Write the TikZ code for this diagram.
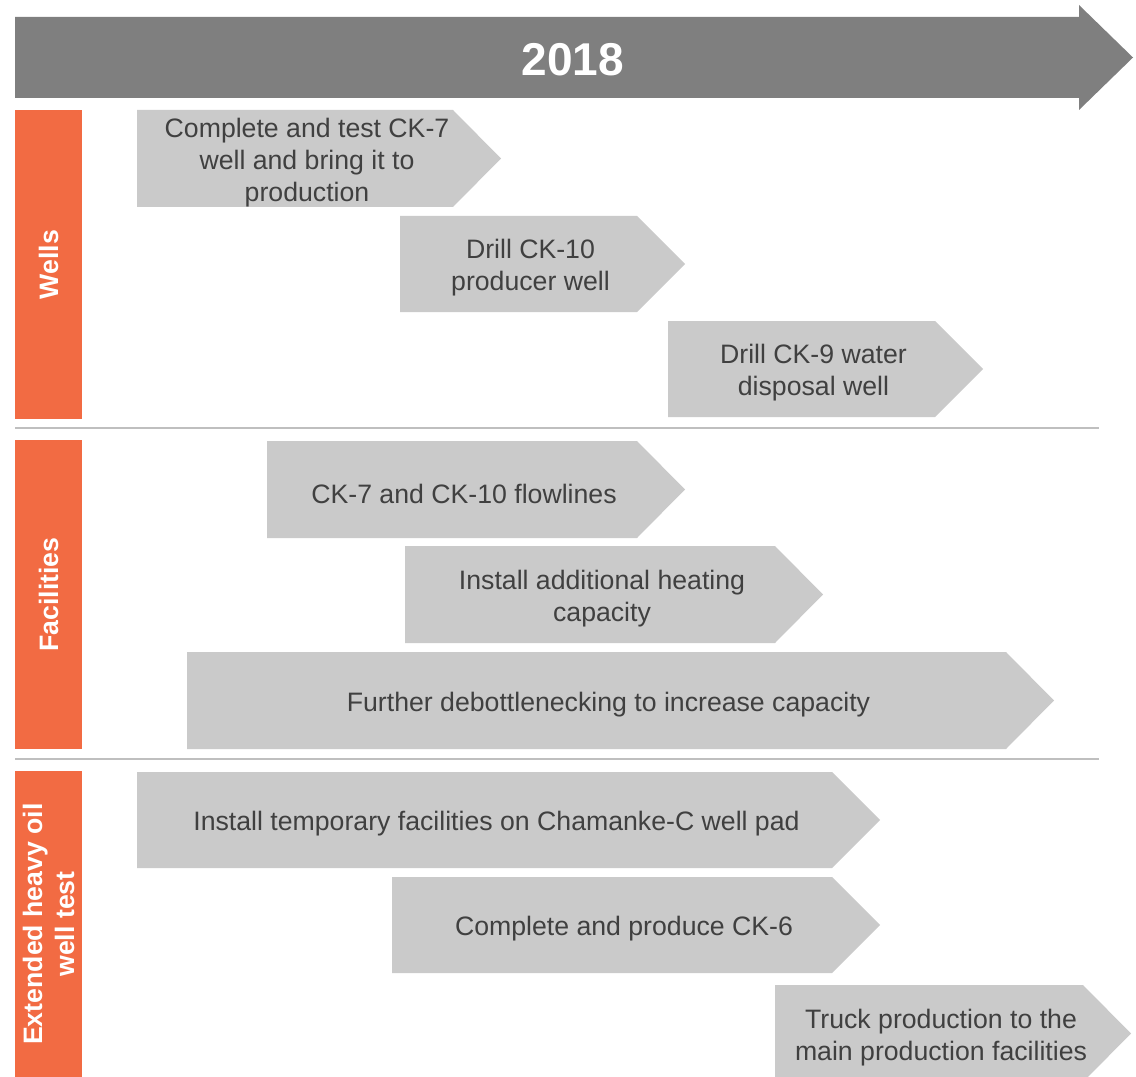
\documentclass[tikz,border=0pt]{standalone}
\usepackage{fontspec}
\setmainfont{Liberation Sans}
\usepackage{tikz}

\definecolor{bandorange}{HTML}{F26B43}
\definecolor{stepgray}{HTML}{CACACA}
\definecolor{yeargray}{HTML}{7F7F7F}
\definecolor{rulegray}{HTML}{BFBFBF}
\definecolor{textgray}{HTML}{404040}

\tikzset{
	phase/.style={fill=stepgray},
	phasetext/.style={text=textgray, align=center, inner sep=0pt, yshift=-3pt, font=\fontsize{20}{24}\selectfont},
	bandtext/.style={text=white, align=center, rotate=90, inner sep=0pt, font=\fontsize{20}{24}\selectfont\bfseries},
	splitline/.style={draw=rulegray, line width=1.5pt}
}

\begin{document}
\begin{tikzpicture}[x=0.75pt, y=-0.75pt]
	\useasboundingbox (0,0) rectangle (1136,1077);
	% year arrow
	\fill[yeargray] (15,17) -- (1079,17) -- (1079,5) -- (1133,57.5) -- (1079,110) -- (1079,98) -- (15,98) -- cycle;
	\node[text=white, font=\fontsize{34.5}{40}\selectfont\bfseries] (year) at (573,60) {2018};
	% side bands
	\fill[bandorange] (15,110) rectangle (82,419);
	\fill[bandorange] (15,440) rectangle (82,749);
	\fill[bandorange] (15,771) rectangle (82,1077);
	\node[bandtext] (wells) at (48.5,264.5) {Wells};
	\node[bandtext] (facilities) at (48.5,594.5) {Facilities};
	\node[bandtext] (ehowt) at (48.5,924) {Extended heavy oil\\well test};
	% separators
	\draw[splitline] (15,428) -- (1099,428);
	\draw[splitline] (15,759) -- (1099,759);
	% wells
	\fill[phase] (137,110) -- (453,110) -- (501,158.5) -- (453,207) -- (137,207) -- cycle;
	\fill[phase] (400,216) -- (637,216) -- (685,264) -- (637,312) -- (400,312) -- cycle;
	\fill[phase] (668,321) -- (935,321) -- (983,369) -- (935,417) -- (668,417) -- cycle;
	\node[phasetext] (ck7) at (307,158.5) {Complete and test CK-7\\well and bring it to\\production};
	\node[phasetext] (ck10) at (530.5,264) {Drill CK-10\\producer well};
	\node[phasetext] (ck9) at (813.5,369) {Drill CK-9 water\\disposal well};
	% facilities
	\fill[phase] (267,441) -- (637,441) -- (685,489.5) -- (637,538) -- (267,538) -- cycle;
	\fill[phase] (405,546) -- (775,546) -- (823,594.5) -- (775,643) -- (405,643) -- cycle;
	\fill[phase] (187,652) -- (1006,652) -- (1054,700.5) -- (1006,749) -- (187,749) -- cycle;
	\node[phasetext] (flow) at (464,489.5) {CK-7 and CK-10 flowlines};
	\node[phasetext] (heat) at (602,594.5) {Install additional heating\\capacity};
	\node[phasetext] (debot) at (608.5,700.5) {Further debottlenecking to increase capacity};
	% extended well test
	\fill[phase] (137,772) -- (832,772) -- (880,820) -- (832,868) -- (137,868) -- cycle;
	\fill[phase] (392,877) -- (832,877) -- (880,925) -- (832,973) -- (392,973) -- cycle;
	\fill[phase] (775,985) -- (1083,985) -- (1131,1033.5) -- (1083,1082) -- (775,1082) -- cycle;
	\node[phasetext] (temp) at (496.5,820) {Install temporary facilities on Chamanke-C well pad};
	\node[phasetext] (ck6) at (624,925) {Complete and produce CK-6};
	\node[phasetext] (truck) at (941,1033.5) {Truck production to the\\main production facilities};
\end{tikzpicture}
\end{document}
